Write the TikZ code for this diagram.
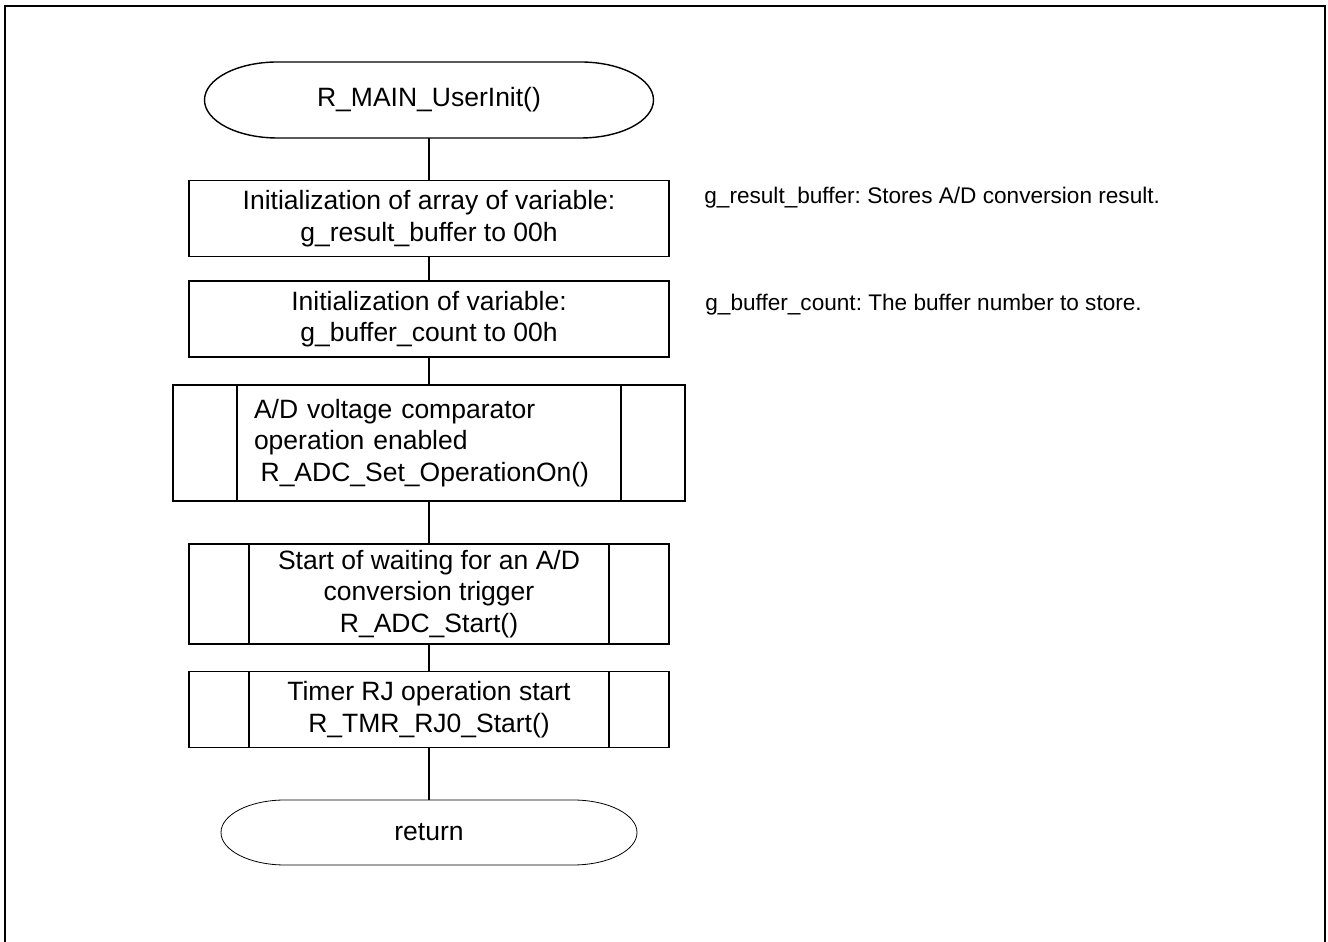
\documentclass[tikz,border=0pt]{standalone}
\usepackage{fontspec}
\setmainfont{Liberation Sans}
\frenchspacing

% outline of a terminal with elliptic ends round node #2
\newcommand{\drawterm}[4][]{%
  \draw[#1] ([xshift=#3pt]#2.north west) -- ([xshift=-#3pt]#2.north east)
    arc[start angle=90, end angle=-90, x radius=#3pt, y radius=#4pt]
    -- ([xshift=#3pt]#2.south west)
    arc[start angle=270, end angle=90, x radius=#3pt, y radius=#4pt] -- cycle;}

\begin{document}
\begin{tikzpicture}[x=1pt, y=1pt, line width=1.4pt,
  font=\fontsize{26.5}{31.5}\selectfont,
  terminal/.style={inner sep=0pt, outer sep=0pt},
  process/.style={draw, rectangle, minimum width=480pt, minimum height=76pt,
    align=center, inner sep=4pt},
  subproc/.style={process, path picture={
    \draw ([xshift=#1]path picture bounding box.north west) -- ([xshift=#1]path picture bounding box.south west);
    \draw ([xshift=-#1]path picture bounding box.north east) -- ([xshift=-#1]path picture bounding box.south east);}},
  subproc/.default=60pt,
  note/.style={font=\fontsize{22.6}{26}\selectfont, inner sep=0pt, anchor=west}]
  \useasboundingbox (0,0) rectangle (1328,942);
  \draw (5,0) -- (5,936) -- (1325,936) -- (1325,0);

  \node[terminal, minimum width=449pt, minimum height=76pt] (start) at (429,842) {R\_MAIN\_UserInit()};
  \node[process, node distance=118.5pt] (b1) [below of=start] {Initialization of array of variable:\\ g\_result\_buffer to 00h};
  \node[process, node distance=100.5pt] (b2) [below of=b1] {Initialization of variable:\\ g\_buffer\_count to 00h};
  \node[subproc=64pt, minimum width=512pt, minimum height=116pt, text width=350pt, align=left,
    node distance=124pt] (b3) [below of=b2] {A/D voltage comparator\\ operation enabled\\ \hspace*{0.25em}R\_ADC\_Set\_OperationOn()};
  \node[subproc, minimum height=100pt, node distance=151pt] (b4) [below of=b3] {Start of waiting for an A/D\\ conversion trigger\\ R\_ADC\_Start()};
  \node[subproc, node distance=115.5pt] (b5) [below of=b4] {Timer RJ operation start\\ R\_TMR\_RJ0\_Start()};
  \node[terminal, minimum width=416pt, minimum height=65pt, node distance=123pt] (ret) [below of=b5] {return};
  \drawterm{start}{73}{38}
  \drawterm[line width=0.8pt]{ret}{64}{32.5}

  \path (start) edge (b1)
        (b1) edge (b2)
        (b2) edge (b3)
        (b3) edge (b4)
        (b4) edge (b5)
        (b5) edge (ret);

  \node[note] (n1) at ([xshift=34pt, yshift=21pt]b1.east) {g\_result\_buffer: Stores A/D conversion result.};
  \node[note] (n2) at ([xshift=35pt, yshift=14pt]b2.east) {g\_buffer\_count: The buffer number to store.};
\end{tikzpicture}
\end{document}
